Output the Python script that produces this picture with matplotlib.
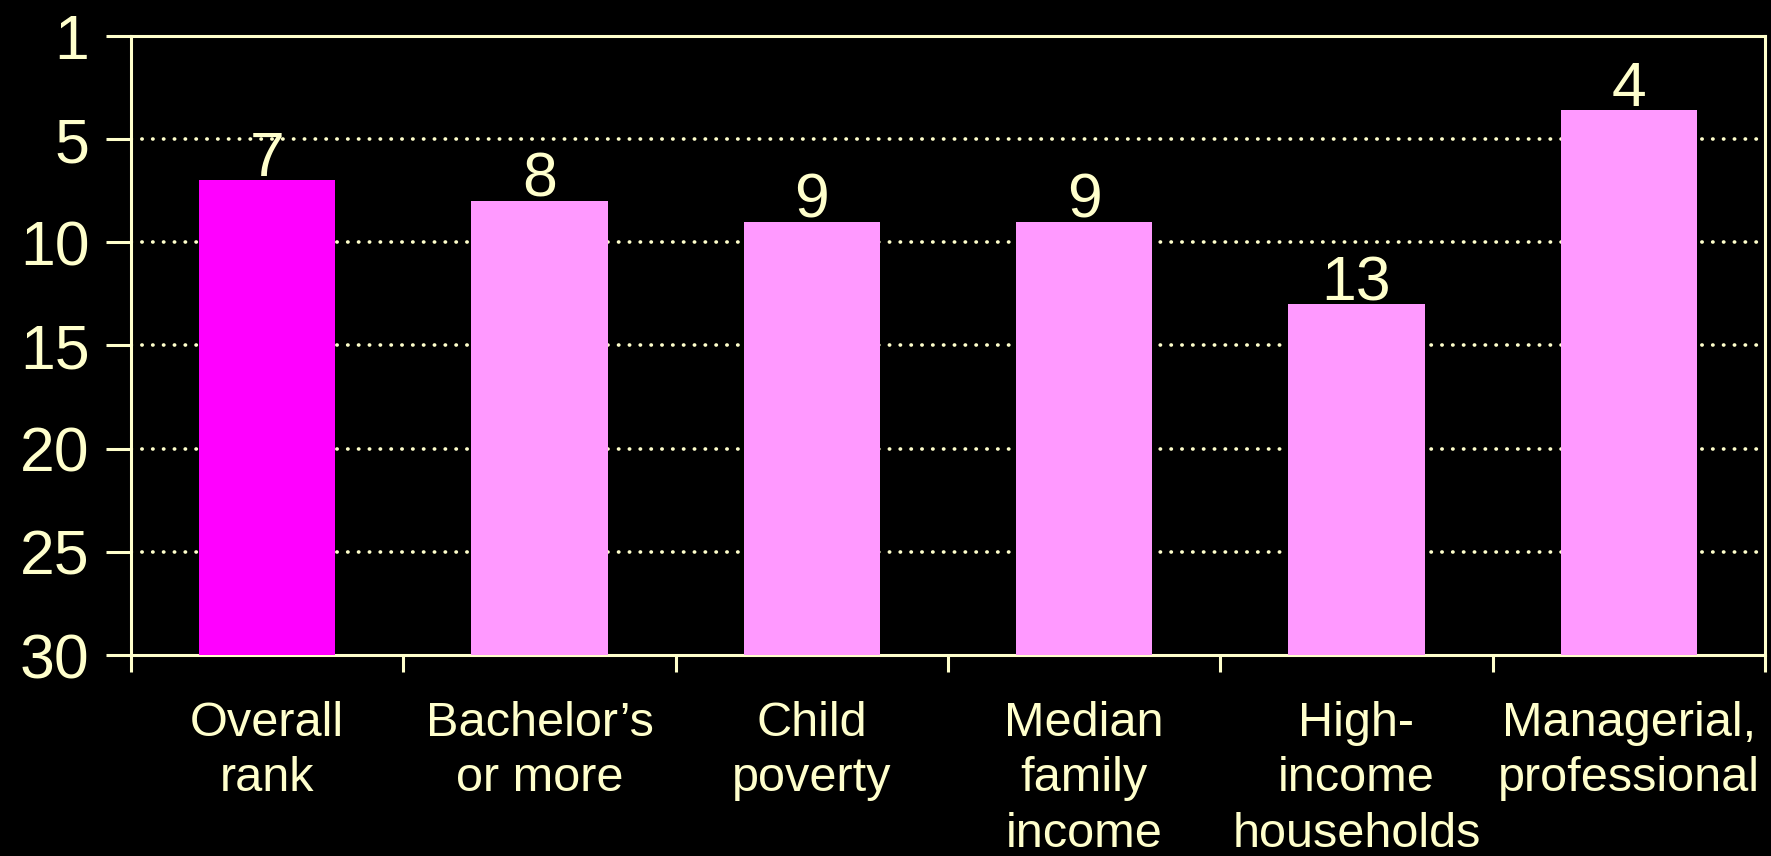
import matplotlib.pyplot as plt
from matplotlib.ticker import FixedLocator

# chart data
categories = ['Overall\nrank', 'Bachelor\u2019s\nor more', 'Child\npoverty',
              'Median\nfamily\nincome', 'High-\nincome\nhouseholds',
              'Managerial,\nprofessional']
ranks = [7, 8, 9, 9, 13, 3.6]
bar_colors = ['#FF00FF', '#FF99FF', '#FF99FF', '#FF99FF', '#FF99FF', '#FF99FF']
ytick_vals = [0, 5, 10, 15, 20, 25, 30]
ytick_labels = ['1', '5', '10', '15', '20', '25', '30']

fg = '#FFFFCC'
plt.rcParams['font.family'] = ['Liberation Sans', 'DejaVu Sans']

fig = plt.figure(figsize=(17.71, 8.56), dpi=100, facecolor='black')
ax = fig.add_axes([0.074, 0.2348, 0.9226, 0.7232])
ax.set_facecolor('black')

x = range(len(categories))
bars = ax.bar(x, [30 - r for r in ranks], bottom=ranks, width=0.5,
              color=bar_colors, zorder=3)

# value labels above bars
for xi, r in zip(x, ranks):
    ax.annotate('%.0f' % r, (xi, r), xytext=(0, 3), textcoords='offset points',
                ha='center', va='baseline', fontsize=45, color=fg, zorder=4)

ax.set_ylim(30, 0)
ax.set_xlim(-0.5, len(categories) - 0.5)
ax.set_yticks(ytick_vals)
ax.set_yticklabels(ytick_labels)

ax.set_xticks(list(x))
ax.set_xticklabels(categories, linespacing=1.3)
ax.xaxis.set_minor_locator(FixedLocator([i - 0.5 for i in range(len(categories) + 1)]))

ax.tick_params(axis='y', which='major', direction='out', length=18, width=2.2,
               color=fg, labelcolor=fg, labelsize=45, pad=12)
ax.tick_params(axis='x', which='major', length=0, labelcolor=fg,
               labelsize=35, pad=33)
ax.tick_params(axis='x', which='minor', direction='out', length=12, width=2.2,
               color=fg)

for s in ax.spines.values():
    s.set_color(fg)
    s.set_linewidth(2.2)

# dotted grid lines
for v in ytick_vals[1:-1]:
    ax.axhline(v, color=fg, linewidth=2.6, linestyle=(0, (0.1, 2.9)),
               dash_capstyle='round', zorder=1)

fig.savefig('out.png', dpi=100, facecolor='black')
